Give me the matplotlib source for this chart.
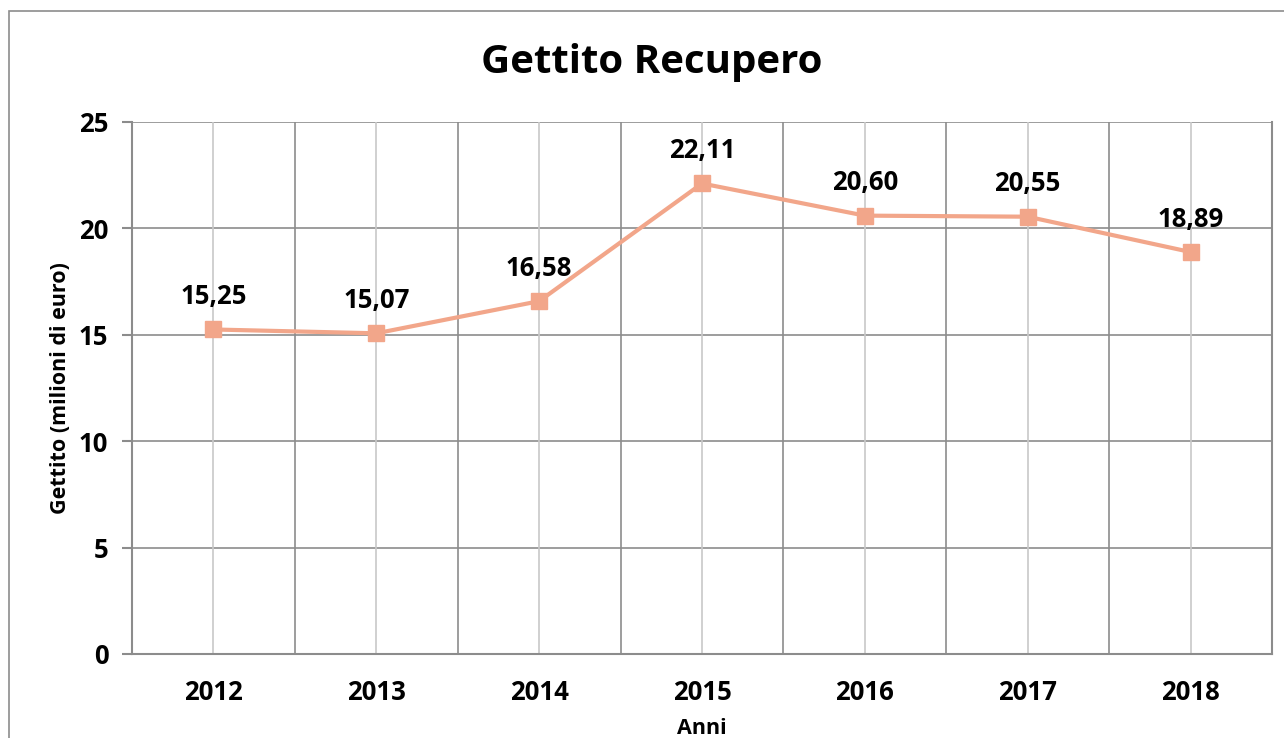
import matplotlib.pyplot as plt
from matplotlib.patches import Rectangle
from matplotlib.ticker import MultipleLocator

years = ['2012', '2013', '2014', '2015', '2016', '2017', '2018']
gettito = [15.25, 15.07, 16.58, 22.11, 20.60, 20.55, 18.89]
labels = ['15,25', '15,07', '16,58', '22,11', '20,60', '20,55', '18,89']

plt.rcParams['font.family'] = ['Open Sans', 'DejaVu Sans']

W, H = 1284, 738
fig = plt.figure(figsize=(W / 100, H / 100), dpi=100)
ax = fig.add_axes([132 / W, 1 - 654 / H, (1272 - 132) / W, (654 - 122) / H])

x = list(range(len(years)))
ax.plot(x, gettito, color='#F2A68A', linewidth=3, marker='s', markersize=11,
        zorder=3, clip_on=False)
for xi, yi, lab in zip(x, gettito, labels):
    ax.annotate(lab, (xi, yi), xytext=(0, 14), textcoords='offset points',
                ha='center', va='bottom', fontsize=18.5, fontweight='bold')

ax.set_xlim(-0.5, len(years) - 0.5)
ax.set_ylim(0, 25)
ax.yaxis.set_major_locator(MultipleLocator(5))
ax.set_xticks(x)
ax.set_xticklabels(years)

# category boundary lines (darker) and center lines (lighter)
for b in [i + 0.5 for i in range(len(years) - 1)]:
    ax.axvline(b, color='#8c8c8c', linewidth=1.2, zorder=1)
for c in x:
    ax.axvline(c, color='#c8c8c8', linewidth=1.2, zorder=1)
ax.yaxis.grid(True, color='#8c8c8c', linewidth=1.2, zorder=1)
ax.set_axisbelow(True)

for s in ['left', 'bottom', 'right']:
    ax.spines[s].set_color('#8c8c8c')
    ax.spines[s].set_linewidth(1.5)
ax.spines['top'].set_visible(False)

ax.tick_params(axis='x', length=0, pad=18, labelsize=18.5)
ax.tick_params(axis='y', length=7, color='#8c8c8c', width=1.5, pad=10, labelsize=18.5)
for t in ax.get_xticklabels() + ax.get_yticklabels():
    t.set_fontweight('bold')

ax.set_ylabel('Gettito (milioni di euro)', fontsize=15.5, fontweight='bold', labelpad=6)
ax.set_xlabel('Anni', fontsize=15.5, fontweight='bold', labelpad=9)
fig.text(652 / W, 1 - 62 / H, 'Gettito Recupero', ha='center', va='center',
         fontsize=29, fontweight='bold')

fig.patches.append(Rectangle((9 / W, -0.1), 1.2, 1 - 11 / H + 0.1,
                             transform=fig.transFigure, fill=False,
                             edgecolor='#8c8c8c', linewidth=1.2))

fig.savefig('out.png', dpi=100)
